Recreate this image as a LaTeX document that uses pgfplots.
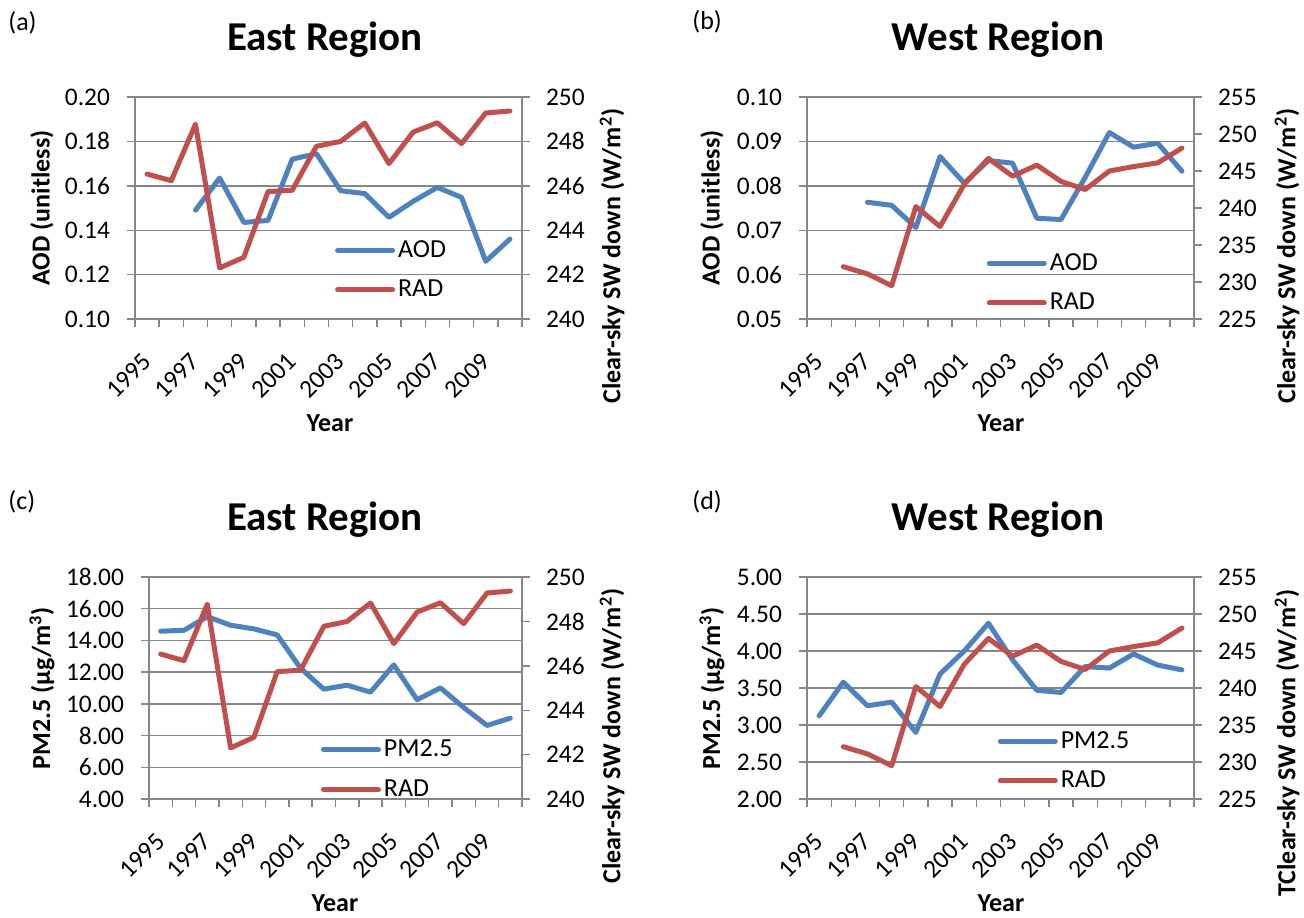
\documentclass[border=0pt]{standalone}
\usepackage{fontspec}
\setmainfont{Carlito}
\usepackage{pgfplots}
\pgfplotsset{compat=1.18}
\definecolor{sblue}{HTML}{4F81BD}
\definecolor{sred}{HTML}{C0504D}
\definecolor{gridgray}{HTML}{868686}
\newcommand{\tickfont}{\fontsize{12.7}{14}\selectfont}
\newcommand{\labfont}{\fontsize{13}{15}\selectfont\bfseries}
\newcommand{\titfont}{\fontsize{20.5}{24}\selectfont\bfseries}
\pgfplotsset{
  base/.style={
    scale only axis, height=111pt, anchor=south west,
    xmin=-0.5, xmax=15.5,
    /pgf/number format/assume math mode=true,
    tick label style={font=\tickfont},
    tick align=outside, major tick length=4pt, minor tick length=4pt,
    every tick/.style={gridgray, line width=0.7pt},
    axis line style={gridgray, line width=0.7pt},
  },
  leftax/.style={base,
    xtick={0,2,4,6,8,10,12,14},
    xticklabels={1995,1997,1999,2001,2003,2005,2007,2009},
    minor xtick={-0.5,0.5,...,15.5},
    every major x tick/.append style={draw=none},
    xticklabel style={rotate=45, anchor=east, inner sep=0pt, xshift=-10.6pt, yshift=-10.6pt},
    xtick pos=left, ytick pos=left,
    ymajorgrids, grid style={gridgray, line width=0.7pt},
    yticklabel style={xshift=-5pt, /pgf/number format/fixed, /pgf/number format/fixed zerofill,
      /pgf/number format/precision=2},
  },
  rightax/.style={base,
    axis x line=none, axis y line*=right, ytick pos=right,
    yticklabel style={anchor=west, xshift=4.5pt},
    legend style={draw=none, fill=none, anchor=west, inner sep=0pt, outer sep=0pt,
      row sep=7pt, font=\fontsize{13}{15}\selectfont, nodes={inner sep=1.5pt}},
    legend cell align=left,
    legend image code/.code={\draw[#1, line width=2.5pt, line cap=round] (0pt,0pt) -- (27.5pt,0pt);},
  },
  aod/.style={sblue, line width=2.5pt, line join=round, line cap=round},
  rad/.style={sred, line width=2.5pt, line join=round, line cap=round},
}
\begin{document}
\begin{tikzpicture}[x=0.5pt, y=-0.5pt]
\path[use as bounding box] (0,0) rectangle (1304,917);
\coordinate (PA) at (135,319);
\coordinate (PB) at (807,319);
\coordinate (PC) at (149,799);
\coordinate (PD) at (807,799);

% ---------- (a) ----------
\begin{axis}[leftax, at={(PA)}, width=193.5pt,
  ymin=0.10, ymax=0.20, ytick={0.10,0.12,0.14,0.16,0.18,0.20}]
\addplot[aod] coordinates {(2,0.149) (3,0.1635) (4,0.1435) (5,0.1444) (6,0.172) (7,0.1745)
 (8,0.1578) (9,0.1565) (10,0.1458) (11,0.153) (12,0.1593) (13,0.1548) (14,0.126) (15,0.136)};
\end{axis}
\begin{axis}[rightax, at={(PA)}, width=193.5pt,
  ymin=240, ymax=250, ytick={240,242,244,246,248,250},
  legend style={at={(0.517,0.221)}}]
\addlegendimage{aod}\addlegendentry{AOD}
\addplot[rad] coordinates {(0,246.53) (1,246.23) (2,248.78) (3,242.3) (4,242.78) (5,245.74)
 (6,245.8) (7,247.78) (8,248.0) (9,248.83) (10,247.0) (11,248.42) (12,248.84) (13,247.9)
 (14,249.28) (15,249.37)};
\addlegendentry{RAD}
\end{axis}
\node[anchor=west, inner sep=0pt, font=\fontsize{13}{15}\selectfont] at (8,23) {(a)};
\node[font=\titfont] at (325,40) {East Region};
\node[font=\labfont, rotate=90] at (42,208) {AOD (unitless)};
\node[font=\labfont, rotate=90] at (612,256) {Clear-sky SW down (W/m\textsuperscript{2})};
\node[font=\labfont] at (330,423) {Year};

% ---------- (b) ----------
\begin{axis}[leftax, at={(PB)}, width=193.5pt,
  ymin=0.05, ymax=0.10, ytick={0.05,0.06,0.07,0.08,0.09,0.10}]
\addplot[aod] coordinates {(2,0.0763) (3,0.0756) (4,0.0706) (5,0.0866) (6,0.0806) (7,0.0857)
 (8,0.0851) (9,0.0727) (10,0.0724) (11,0.0819) (12,0.0920) (13,0.0887) (14,0.0896) (15,0.0833)};
\end{axis}
\begin{axis}[rightax, at={(PB)}, width=193.5pt,
  ymin=225, ymax=255, ytick={225,230,235,240,245,250,255},
  legend style={at={(0.4645,0.162)}}]
\addlegendimage{aod}\addlegendentry{AOD}
\addplot[rad] coordinates {(1,232.07) (2,231.1) (3,229.5) (4,240.2) (5,237.5) (6,243.2)
 (7,246.7) (8,244.3) (9,245.8) (10,243.6) (11,242.5) (12,245.0) (13,245.6) (14,246.1) (15,248.1)};
\addlegendentry{RAD}
\end{axis}
\node[anchor=west, inner sep=0pt, font=\fontsize{13}{15}\selectfont] at (692,22) {(b)};
\node[font=\titfont] at (998,40) {West Region};
\node[font=\labfont, rotate=90] at (712,208) {AOD (unitless)};
\node[font=\labfont, rotate=90] at (1287,256) {Clear-sky SW down (W/m\textsuperscript{2})};
\node[font=\labfont] at (1001,423) {Year};

% ---------- (c) ----------
\begin{axis}[leftax, at={(PC)}, width=186.5pt,
  ymin=4, ymax=18, ytick={4,6,8,10,12,14,16,18}]
\addplot[aod] coordinates {(0,14.58) (1,14.64) (2,15.5) (3,14.96) (4,14.73) (5,14.35) (6,12.25)
 (7,10.93) (8,11.18) (9,10.74) (10,12.46) (11,10.26) (12,11.01) (13,9.77) (14,8.64) (15,9.1)};
\end{axis}
\begin{axis}[rightax, at={(PC)}, width=186.5pt,
  ymin=240, ymax=250, ytick={240,242,244,246,248,250},
  legend style={at={(0.461,0.133)}}]
\addlegendimage{aod}\addlegendentry{PM2.5}
\addplot[rad] coordinates {(0,246.53) (1,246.23) (2,248.78) (3,242.3) (4,242.78) (5,245.74)
 (6,245.8) (7,247.78) (8,248.0) (9,248.83) (10,247.0) (11,248.42) (12,248.84) (13,247.9)
 (14,249.28) (15,249.37)};
\addlegendentry{RAD}
\end{axis}
\node[anchor=west, inner sep=0pt, font=\fontsize{13}{15}\selectfont] at (8,502) {(c)};
\node[font=\titfont] at (325,520) {East Region};
\node[font=\labfont, rotate=90] at (42,688) {PM2.5 (µg/m\textsuperscript{3})};
\node[font=\labfont, rotate=90] at (612,736) {Clear-sky SW down (W/m\textsuperscript{2})};
\node[font=\labfont] at (335,903) {Year};

% ---------- (d) ----------
\begin{axis}[leftax, at={(PD)}, width=193.5pt,
  ymin=2, ymax=5, ytick={2,2.5,3,3.5,4,4.5,5}]
\addplot[aod] coordinates {(0,3.124) (1,3.58) (2,3.26) (3,3.31) (4,2.90) (5,3.69) (6,4.0)
 (7,4.375) (8,3.88) (9,3.47) (10,3.44) (11,3.79) (12,3.77) (13,3.96) (14,3.81) (15,3.745)};
\end{axis}
\begin{axis}[rightax, at={(PD)}, width=193.5pt,
  ymin=225, ymax=255, ytick={225,230,235,240,245,250,255},
  legend style={at={(0.493,0.171)}}]
\addlegendimage{aod}\addlegendentry{PM2.5}
\addplot[rad] coordinates {(1,232.07) (2,231.1) (3,229.5) (4,240.2) (5,237.5) (6,243.2)
 (7,246.7) (8,244.3) (9,245.8) (10,243.6) (11,242.5) (12,245.0) (13,245.6) (14,246.1) (15,248.1)};
\addlegendentry{RAD}
\end{axis}
\node[anchor=west, inner sep=0pt, font=\fontsize{13}{15}\selectfont] at (692,502) {(d)};
\node[font=\titfont] at (998,520) {West Region};
\node[font=\labfont, rotate=90] at (712,688) {PM2.5 (µg/m\textsuperscript{3})};
\node[font=\labfont, rotate=90] at (1287,743) {TClear-sky SW down (W/m\textsuperscript{2})};
\node[font=\labfont] at (1001,903) {Year};
\end{tikzpicture}
\end{document}
